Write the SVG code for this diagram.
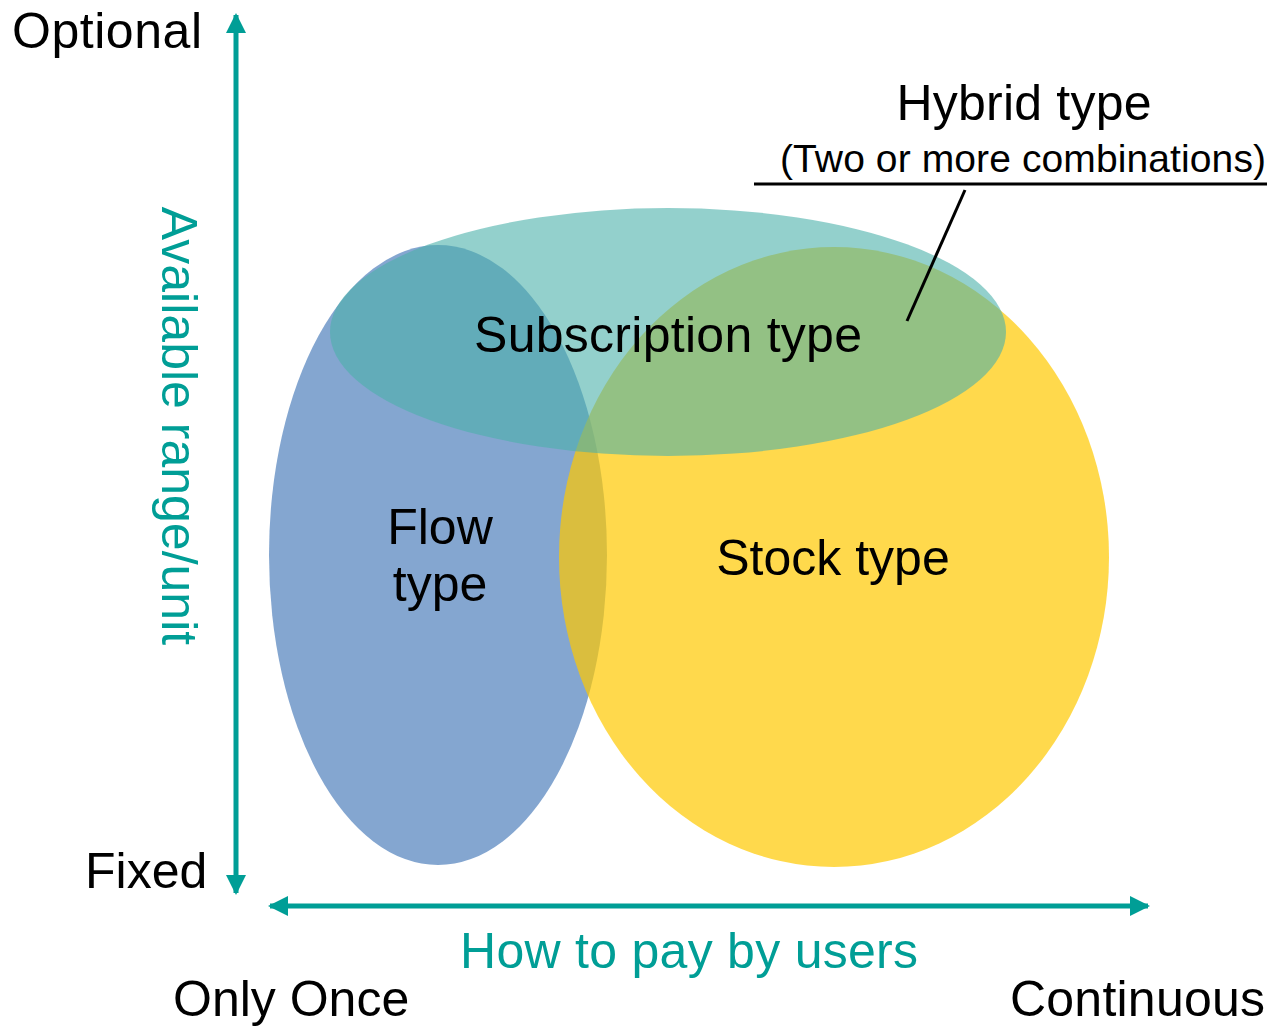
<svg xmlns="http://www.w3.org/2000/svg" width="1267" height="1027" viewBox="0 0 1267 1027">
<style>
text{font-family:"Liberation Sans",Arial,sans-serif;fill:#000}
.t50{font-size:50px}
.teal{fill:#009e96}
.axis{stroke:#009e96;stroke-width:5;fill:none}
</style>
<defs>
<marker id="ah" viewBox="0 0 10 10" refX="9" refY="5" markerWidth="4" markerHeight="4" markerUnits="strokeWidth" orient="auto">
<path d="M0,0 L10,5 L0,10 z" fill="#009e96"/>
</marker>
</defs>
<rect width="1267" height="1027" fill="#fff"/>
<g id="flow">
<ellipse cx="438" cy="555" rx="169" ry="310" fill="#84a6d0"/>
</g>
<g id="stock">
<ellipse cx="834" cy="557" rx="275" ry="310" fill="#ffc900" fill-opacity="0.7"/>
</g>
<g id="subscription">
<ellipse cx="668" cy="332" rx="338" ry="124" fill="#4bb1aa" fill-opacity="0.6"/>
</g>
<g id="connectors">
<line class="axis" x1="236" y1="455" x2="236" y2="15" marker-end="url(#ah)"/>
<line class="axis" x1="236" y1="455" x2="236" y2="893" marker-end="url(#ah)"/>
<line class="axis" x1="710" y1="906" x2="270" y2="906" marker-end="url(#ah)"/>
<line class="axis" x1="710" y1="906" x2="1148" y2="906" marker-end="url(#ah)"/>
<line x1="754" y1="184" x2="1267" y2="184" stroke="#000" stroke-width="3"/>
<line x1="965" y1="190" x2="907" y2="321" stroke="#000" stroke-width="3"/>
</g>
<g id="labels">
<text class="t50" x="12" y="48" textLength="190">Optional</text>
<text class="t50" x="85" y="888">Fixed</text>
<text class="t50" x="173" y="1016">Only Once</text>
<text class="t50" x="1010" y="1016" textLength="255">Continuous</text>
<text class="t50 teal" x="689" y="968" text-anchor="middle" textLength="458">How to pay by users</text>
<text class="t50 teal" transform="translate(162,426) rotate(90)" text-anchor="middle">Available range/unit</text>
<text class="t50" x="1024" y="120" text-anchor="middle" textLength="255">Hybrid type</text>
<text x="780" y="172" style="font-size:39px" textLength="486">(Two or more combinations)</text>
<text class="t50" x="668" y="352" text-anchor="middle" textLength="388">Subscription type</text>
<text class="t50" x="440" y="544" text-anchor="middle">Flow</text>
<text class="t50" x="440" y="601" text-anchor="middle">type</text>
<text class="t50" x="833" y="575" text-anchor="middle">Stock type</text>
</g>
</svg>
